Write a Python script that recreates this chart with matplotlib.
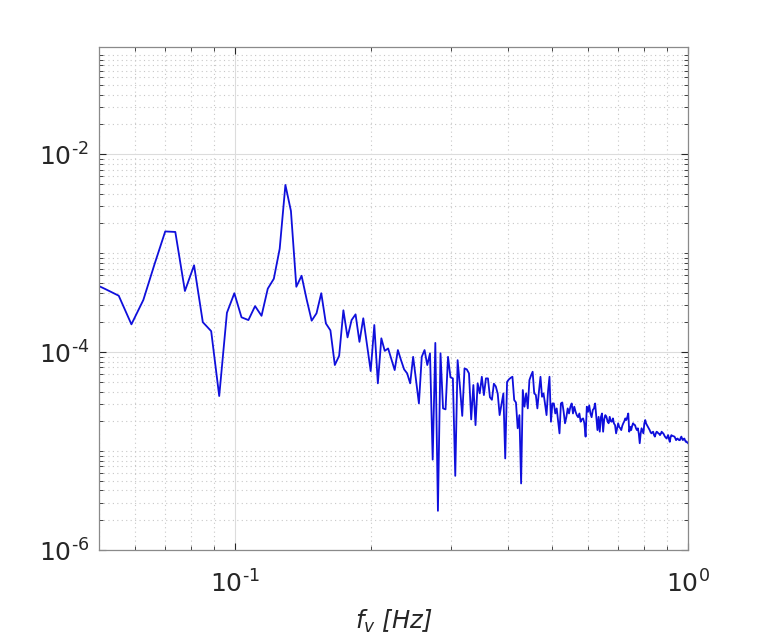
import numpy as np
import matplotlib
matplotlib.use("Agg")
import matplotlib.pyplot as plt
from matplotlib.ticker import FixedLocator, FixedFormatter, NullFormatter

# frequency resolution and bin indices
df = 1.0 / 271.0
k_start = 13

# spectral values for bins k = 13 .. 271
psd = [
    5.1e-4, 4.35e-4, 3.72e-4, 1.91e-4, 3.37e-4, 7.78e-4, 1.66e-3, 1.64e-3,   # 13-20
    4.15e-4, 7.55e-4, 2.01e-4, 1.63e-4, 3.60e-5, 2.50e-4, 3.94e-4, 2.25e-4,   # 21-28
    2.11e-4, 2.92e-4, 2.33e-4, 4.38e-4, 5.52e-4, 1.11e-3, 4.90e-3, 2.67e-3,   # 29-36
    4.58e-4, 5.92e-4, 3.40e-4, 2.08e-4, 2.47e-4, 3.94e-4, 1.95e-4, 1.66e-4,   # 37-44
    7.41e-5, 9.20e-5, 2.65e-4, 1.41e-4, 2.11e-4, 2.41e-4, 1.27e-4, 2.20e-4,   # 45-52
    1.18e-4, 6.44e-5, 1.88e-4, 4.84e-5, 1.38e-4, 1.03e-4, 1.09e-4, 8.45e-5,   # 53-60
    6.59e-5, 1.05e-4, 8.30e-5, 6.70e-5, 6.10e-5, 4.84e-5, 8.97e-5, 5.22e-5,   # 61-68
    3.03e-5, 8.97e-5, 1.05e-4, 7.41e-5, 9.73e-5, 8.20e-6, 1.24e-4, 2.49e-6,   # 69-76
    9.73e-5, 2.70e-5, 2.64e-5, 8.97e-5, 5.56e-5, 5.43e-5, 5.62e-6, 8.30e-5,   # 77-84
    4.47e-5, 2.27e-5, 6.85e-5, 6.70e-5, 6.10e-5, 2.09e-5, 4.65e-5, 1.83e-5,   # 85-92
    4.84e-5, 3.83e-5, 5.64e-5, 3.68e-5, 5.43e-5, 5.43e-5, 3.50e-5, 3.30e-5,   # 93-100
    4.80e-5, 4.50e-5, 3.80e-5, 2.31e-5, 3.00e-5, 3.83e-5, 8.43e-6, 5.00e-5,   # 101-108
    5.30e-5, 5.50e-5, 5.64e-5, 3.28e-5, 3.10e-5, 1.70e-5, 2.31e-5, 4.71e-6,   # 109-116
    4.14e-5, 2.81e-5, 3.83e-5, 2.70e-5, 5.22e-5, 5.80e-5, 6.34e-5, 3.83e-5,   # 117-124
    3.70e-5, 2.70e-5, 4.00e-5, 5.64e-5, 3.54e-5, 3.83e-5, 3.00e-5, 2.31e-5,   # 125-132
    4.00e-5, 5.64e-5, 1.98e-5, 3.03e-5, 3.03e-5, 2.40e-5, 2.70e-5, 2.00e-5,   # 133-140
    1.51e-5, 3.03e-5, 3.10e-5, 2.50e-5, 1.91e-5, 2.20e-5, 2.70e-5, 2.40e-5,   # 141-148
    2.80e-5, 3.03e-5, 2.40e-5, 2.81e-5, 2.50e-5, 2.30e-5, 2.20e-5, 2.40e-5,   # 149-156
    1.98e-5, 2.10e-5, 2.14e-5, 1.91e-5, 1.40e-5, 2.81e-5, 2.50e-5, 2.90e-5,   # 157-164
    2.40e-5, 2.20e-5, 2.60e-5, 2.70e-5, 3.03e-5, 2.20e-5, 1.63e-5, 2.22e-5,   # 165-172
    1.57e-5, 2.20e-5, 2.40e-5, 1.57e-5, 2.10e-5, 2.31e-5, 2.22e-5, 2.00e-5,   # 173-180
    1.91e-5, 2.22e-5, 2.00e-5, 1.98e-5, 2.14e-5, 1.90e-5, 1.83e-5, 1.51e-5,   # 181-188
    1.70e-5, 1.91e-5, 1.75e-5, 1.70e-5, 1.63e-5, 1.80e-5, 1.91e-5, 2.00e-5,   # 189-196
    2.14e-5, 2.06e-5, 2.20e-5, 2.40e-5, 1.57e-5, 1.76e-5, 1.63e-5, 1.80e-5,   # 197-204
    1.91e-5, 1.85e-5, 1.83e-5, 1.70e-5, 1.63e-5, 1.70e-5, 1.50e-5, 1.20e-5,   # 205-212
    1.50e-5, 1.70e-5, 1.60e-5, 1.51e-5, 1.90e-5, 2.06e-5, 1.90e-5, 1.83e-5,   # 213-220
    1.76e-5, 1.70e-5, 1.63e-5, 1.55e-5, 1.51e-5, 1.55e-5, 1.57e-5, 1.45e-5,   # 221-228
    1.40e-5, 1.50e-5, 1.57e-5, 1.55e-5, 1.51e-5, 1.50e-5, 1.45e-5, 1.50e-5,   # 229-236
    1.57e-5, 1.53e-5, 1.51e-5, 1.45e-5, 1.40e-5, 1.37e-5, 1.34e-5, 1.40e-5,   # 237-244
    1.45e-5, 1.32e-5, 1.24e-5, 1.38e-5, 1.45e-5, 1.43e-5, 1.42e-5, 1.41e-5,   # 245-252
    1.40e-5, 1.35e-5, 1.29e-5, 1.32e-5, 1.34e-5, 1.31e-5, 1.29e-5, 1.29e-5,   # 253-260
    1.36e-5, 1.40e-5, 1.33e-5, 1.29e-5, 1.32e-5, 1.34e-5, 1.28e-5, 1.24e-5,   # 261-268
    1.25e-5, 1.22e-5, 1.20e-5,                                                # 269-271
]

freq = (np.arange(len(psd)) + k_start) * df

x_major = [0.1, 1.0]
x_major_labels = ['$\\mathregular{10^{\u2010' + '1}}$', '$\\mathregular{10^{0}}$']
y_major = [1e-6, 1e-4, 1e-2]
y_major_labels = ['$\\mathregular{10^{\u2010' + e + '}}$' for e in ('6', '4', '2')]

plt.rcParams['font.family'] = ['DejaVu Sans']
plt.rcParams['mathtext.fontset'] = 'dejavusans'

fig = plt.figure(figsize=(7.6, 6.43), dpi=100)
ax = fig.add_axes([0.1299, 0.1446, 0.9053 - 0.1299, 0.9264 - 0.1446])

ax.plot(freq, psd, color='#0f0fdc', linewidth=1.3)
ax.set_xscale('log')
ax.set_yscale('log')
ax.set_xlim(0.05, 1.0)
ax.set_ylim(1e-6, 0.1205)

ax.xaxis.set_major_locator(FixedLocator(x_major))
ax.xaxis.set_major_formatter(FixedFormatter(x_major_labels))
xminor = [m * d for d in (0.01, 0.1) for m in range(2, 10)]
ax.xaxis.set_minor_locator(FixedLocator([v for v in xminor if 0.05 <= v <= 1.0]))
ax.xaxis.set_minor_formatter(NullFormatter())

ax.yaxis.set_major_locator(FixedLocator(y_major))
ax.yaxis.set_major_formatter(FixedFormatter(y_major_labels))
yminor = []
for e in range(-6, 0):
    for m in range(1, 10):
        v = m * 10.0 ** e
        if v not in y_major:
            yminor.append(v)
ax.yaxis.set_minor_locator(FixedLocator(yminor))
ax.yaxis.set_minor_formatter(NullFormatter())

ax.grid(True, which='major', color='#dcdcdc', linestyle='-', linewidth=0.8)
ax.grid(True, which='minor', color='#c8c8c8', linestyle=(0, (1, 3)), linewidth=0.8)
ax.set_axisbelow(True)

for s in ax.spines.values():
    s.set_color('#8a8a8a')
    s.set_linewidth(0.9)

ax.tick_params(which='both', direction='in', top=True, right=True, color='#262626')
ax.tick_params(which='major', length=5, width=0.8)
ax.tick_params(which='minor', length=3, width=0.6)
ax.tick_params(axis='x', which='major', labelsize=18, pad=15, labelcolor='#262626')
ax.tick_params(axis='y', which='major', labelsize=18, pad=7, labelcolor='#262626')

ax.set_xlabel(r'$f_v$ [Hz]', fontsize=17.5, style='italic', color='#262626', labelpad=7)

fig.savefig('out.png', dpi=100)
